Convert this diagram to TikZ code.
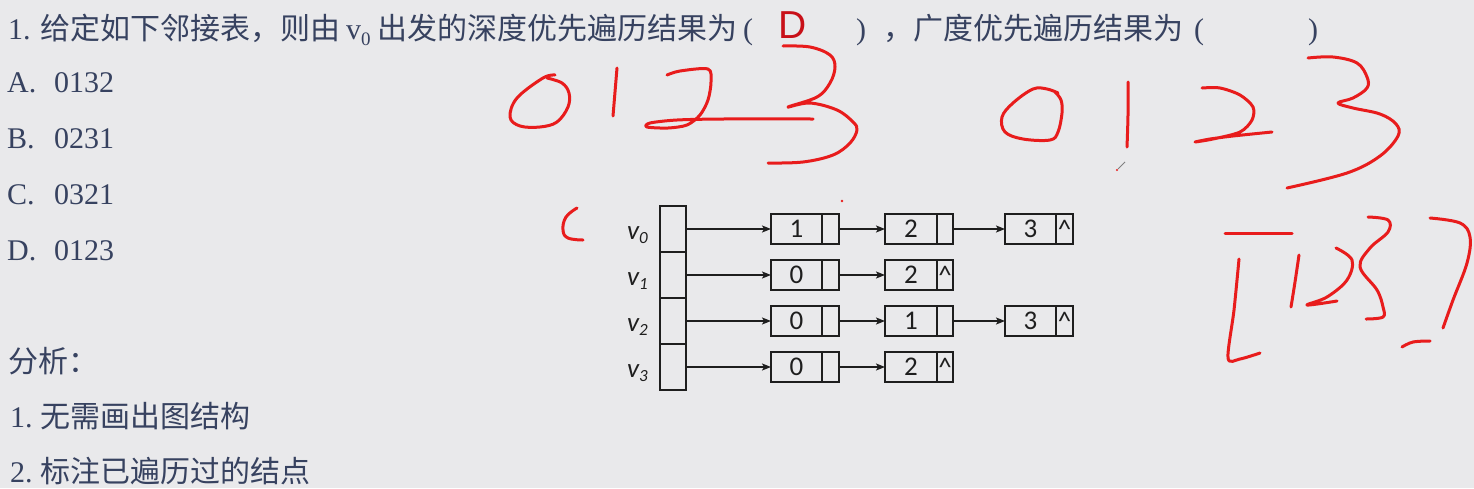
\documentclass[tikz,border=0pt]{standalone}
\usepackage{fontspec}
\setmainfont{Liberation Serif}
\newfontfamily\cjk{Noto Sans CJK SC}
\newfontfamily\calfont{Carlito}
\newfontfamily\sansfont{Liberation Sans}
\usetikzlibrary{arrows.meta}
\definecolor{bg}{RGB}{233,233,235}
\definecolor{ink}{RGB}{55,66,96}
\definecolor{pen}{RGB}{232,28,28}
\definecolor{ansred}{RGB}{200,16,24}
\definecolor{boxline}{RGB}{30,30,30}
\begin{document}
\begin{tikzpicture}[x=1pt,y=-1pt,
  txt/.style={anchor=base west, inner sep=0pt, text=ink, font=\fontsize{30}{30}\selectfont},
  cjktxt/.style={txt, font=\cjk\fontsize{30}{30}\selectfont},
  headcell/.style={draw=boxline, line width=1.5pt, minimum width=26pt, minimum height=46pt, inner sep=0pt, outer sep=0pt},
  datacell/.style={draw=boxline, line width=1.5pt, minimum height=30pt, inner sep=0pt, outer sep=0pt, text=boxline, font=\calfont\fontsize{27}{27}\selectfont},
  ptrcell/.style={datacell, anchor=west},
  vlabel/.style={anchor=base west, inner sep=0pt, text=boxline, font=\calfont\itshape\fontsize{27}{27}\selectfont},
  caret/.style={inner sep=0pt, text=boxline, font=\calfont\fontsize{27}{27}\selectfont},
  arr/.style={draw=boxline, line width=1.4pt, -{Stealth[length=9pt,width=7pt,inset=2pt]}},
  penline/.style={draw=pen, line width=3pt, line cap=round, line join=round}
]
\fill[bg] (0,0) rectangle (1474,488);
\useasboundingbox (0,0) rectangle (1474,488);

% ---- title line ----
\node[txt] (t1) at (8,39) {1.};
\node[cjktxt] (t2) at (40,39) {给定如下邻接表，则由};
\node[txt] (t3) at (346,39) {v\raisebox{-6pt}{\fontsize{19}{19}\selectfont 0}};
\node[cjktxt, anchor=base east] (t4) at (738,39) {出发的深度优先遍历结果为};
\node[txt] (t5) at (743,39) {(};
\node[anchor=base west, inner sep=0pt, text=ansred, font=\sansfont\fontsize{39}{39}\selectfont] (ans) at (778,38) {D};
\node[txt] (t6) at (856,39) {)};
\node[cjktxt, anchor=base east] (t7) at (1184,39) {，广度优先遍历结果为};
\node[txt] (t8) at (1194,39) {(};
\node[txt] (t9) at (1308,39) {)};

% ---- options ----
\node[txt] (oA) at (7,92) {A.};   \node[txt] (oA2) at (54,92) {0132};
\node[txt] (oB) at (7,148) {B.};  \node[txt] (oB2) at (54,148) {0231};
\node[txt] (oC) at (7,204) {C.};  \node[txt] (oC2) at (54,204) {0321};
\node[txt] (oD) at (7,260) {D.};  \node[txt] (oD2) at (54,260) {0123};

% ---- analysis ----
\node[cjktxt] (a0) at (8,372) {分析：};
\node[txt] (a1) at (10,427) {1.};
\node[cjktxt] (a1t) at (40,427) {无需画出图结构};
\node[txt] (a2) at (10,482) {2.};
\node[cjktxt] (a2t) at (40,482) {标注已遍历过的结点};

% ---- adjacency list ----
\node[headcell] (h0) at (673,229) {};
\node[headcell] (h1) at (673,275) {};
\node[headcell] (h2) at (673,321) {};
\node[headcell] (h3) at (673,367) {};

\node[vlabel] (v0) at (627,239) {v\raisebox{-4pt}{\fontsize{17}{17}\selectfont 0}};
\node[vlabel] (v1) at (627,285) {v\raisebox{-4pt}{\fontsize{17}{17}\selectfont 1}};
\node[vlabel] (v2) at (627,331) {v\raisebox{-4pt}{\fontsize{17}{17}\selectfont 2}};
\node[vlabel] (v3) at (627,377) {v\raisebox{-4pt}{\fontsize{17}{17}\selectfont 3}};

% row 0
\node[datacell, minimum width=51pt] (d01) at (796.5,229) {1};
\node[ptrcell, minimum width=17pt] (p01) at (d01.east) {};
\node[datacell, minimum width=52pt] (d02) at (911,229) {2};
\node[ptrcell, minimum width=16pt] (p02) at (d02.east) {};
\node[datacell, minimum width=51pt] (d03) at (1030.5,229) {3};
\node[ptrcell, minimum width=17pt] (p03) at (d03.east) {};
\node[caret] (c03) at (p03.center) {\textasciicircum};
% row 1
\node[datacell, minimum width=51pt] (d11) at (796.5,275) {0};
\node[ptrcell, minimum width=17pt] (p11) at (d11.east) {};
\node[datacell, minimum width=52pt] (d12) at (911,275) {2};
\node[ptrcell, minimum width=16pt] (p12) at (d12.east) {};
\node[caret] (c12) at (p12.center) {\textasciicircum};
% row 2
\node[datacell, minimum width=51pt] (d21) at (796.5,321) {0};
\node[ptrcell, minimum width=17pt] (p21) at (d21.east) {};
\node[datacell, minimum width=52pt] (d22) at (911,321) {1};
\node[ptrcell, minimum width=16pt] (p22) at (d22.east) {};
\node[datacell, minimum width=51pt] (d23) at (1030.5,321) {3};
\node[ptrcell, minimum width=17pt] (p23) at (d23.east) {};
\node[caret] (c23) at (p23.center) {\textasciicircum};
% row 3
\node[datacell, minimum width=51pt] (d31) at (796.5,367) {0};
\node[ptrcell, minimum width=17pt] (p31) at (d31.east) {};
\node[datacell, minimum width=52pt] (d32) at (911,367) {2};
\node[ptrcell, minimum width=16pt] (p32) at (d32.east) {};
\node[caret] (c32) at (p32.center) {\textasciicircum};

\draw[arr] (h0.east) -- (d01.west);
\draw[arr] (p01.east) -- (d02.west);
\draw[arr] (p02.east) -- (d03.west);
\draw[arr] (h1.east) -- (d11.west);
\draw[arr] (p11.east) -- (d12.west);
\draw[arr] (h2.east) -- (d21.west);
\draw[arr] (p21.east) -- (d22.west);
\draw[arr] (p22.east) -- (d23.west);
\draw[arr] (h3.east) -- (d31.west);
\draw[arr] (p31.east) -- (d32.west);

% ---- red handwriting ----
% first 0123
\draw[penline] plot[smooth, tension=0.6] coordinates {(555,75) (543,78) (517,98) (510,117) (520,126) (540,127) (557,122) (568,107) (569,93) (562,83) (547,78)};
\draw[penline] plot[smooth, tension=0.6] coordinates {(617,68) (615,92) (613,116)};
\draw[penline] plot[smooth, tension=0.5] coordinates {(667,75) (680,71) (708,69) (711,82) (708,100) (700,115) (687,125) (668,128) (647,127) (650,123) (677,120) (723,119) (813,119)};
\draw[penline] plot[smooth, tension=0.6] coordinates {(783,46) (810,47) (830,55) (835,67) (830,83) (817,97) (788,107) (810,103) (837,110) (853,122) (857,130) (850,143) (833,155) (803,162) (768,163)};
% second 0123
\draw[penline] plot[smooth, tension=0.6] coordinates {(1058,93) (1047,89) (1033,89) (1013,103) (1002,117) (1005,132) (1023,139) (1050,140) (1058,132) (1062,113) (1061,100) (1055,92)};
\draw[penline] plot[smooth, tension=0.6] coordinates {(1128,82) (1128,115) (1127,147)};
\draw[penline] plot[smooth, tension=0.5] coordinates {(1202,88) (1220,88) (1240,95) (1253,107) (1252,120) (1240,132) (1213,139) (1195,142) (1210,139) (1233,136) (1272,132)};
\draw[penline] plot[smooth, tension=0.6] coordinates {(1308,58) (1333,57) (1357,63) (1367,77) (1367,88) (1353,98) (1338,103) (1353,108) (1380,114) (1396,124) (1398,136) (1380,156) (1347,173) (1287,188)};
% pen cursor
\draw[gray, line width=1pt] (1118,169) -- (1125,162);
\fill[pen] (1117,170) circle (1.2);
% stray marks
\draw[penline] plot[smooth, tension=0.7] coordinates {(577,208) (566,217) (563,230) (568,238) (583,240)};
\fill[pen] (842,201) circle (1.4);
% bracket set
\draw[penline] (1225,233) -- (1292,233);
\draw[penline] plot[smooth, tension=0.5] coordinates {(1239,259) (1234,310) (1228,358) (1240,359) (1260,353)};
\draw[penline] plot[smooth, tension=0.6] coordinates {(1299,255) (1295,282) (1291,307)};
\draw[penline] plot[smooth, tension=0.6] coordinates {(1336,248) (1352,260) (1347,280) (1327,297) (1307,305) (1337,301)};
\draw[penline] plot[smooth, tension=0.6] coordinates {(1368,217) (1388,220) (1388,232) (1370,248) (1360,267) (1377,290) (1383,307) (1383,317) (1366,319)};
\draw[penline] plot[smooth, tension=0.6] coordinates {(1430,218) (1460,223) (1470,237) (1467,263) (1453,300) (1443,328)};
\draw[penline] plot[smooth, tension=0.6] coordinates {(1402,347) (1413,342) (1430,341)};
\end{tikzpicture}
\end{document}
